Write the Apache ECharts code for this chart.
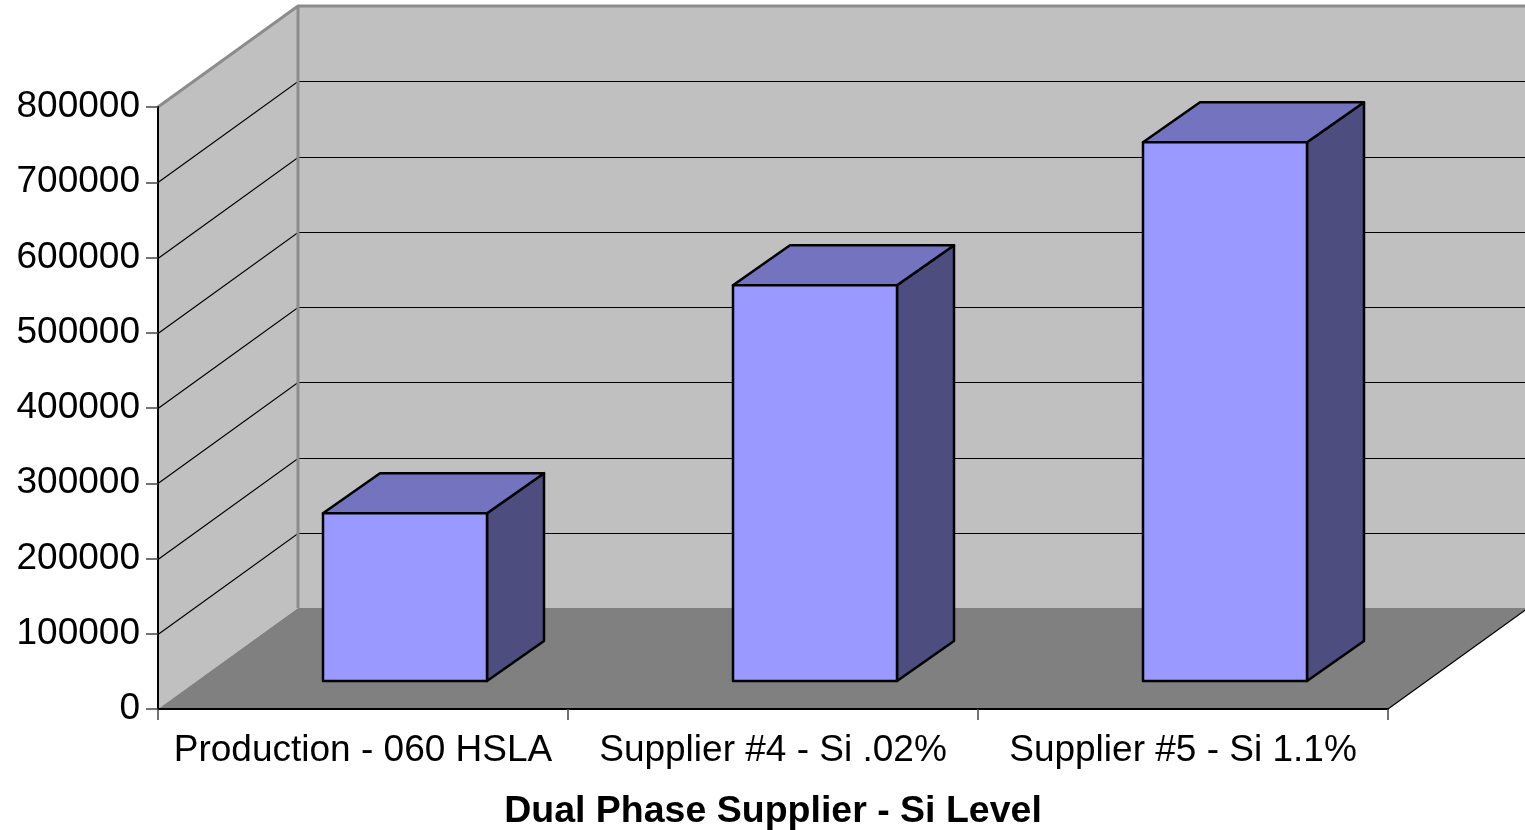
<!DOCTYPE html>
<html>
<head>
<meta charset="utf-8">
<title>Dual Phase Supplier - Si Level</title>
<script src="https://cdn.jsdelivr.net/npm/echarts@6/dist/echarts.min.js"></script>
<style>
  html, body { margin: 0; padding: 0; background: #ffffff; }
  #chart { width: 1525px; height: 830px; }
</style>
</head>
<body>
<div id="chart"></div>
<script>
// Categories and measured values
const categories = ['Production - 060 HSLA', 'Supplier #4 - Si .02%', 'Supplier #5 - Si 1.1%'];
const values = [223000, 526000, 716000];

// Value axis range
const yMin = 0;
const yMax = 800000;
const yStep = 100000;

const axisTitle = 'Dual Phase Supplier - Si Level';

// Oblique depth of the plot box (pixels, towards the back wall)
const DEPTH = [140, -101];
// Front and back planes of each column inside the depth
const BAR_FRONT = [42, -28];
const BAR_BACK = [99, -68];
const BAR_WIDTH_RATIO = 0.4;

const COLORS = {
  wall: '#c0c0c0',
  floor: '#808080',
  wallEdge: '#8c8c8c',
  grid: '#000000',
  barFront: '#9999ff',
  barTop: '#7373bf',
  barSide: '#4d4d80'
};

// Walls, floor and gridlines of the 3-D box
function renderWalls(params, api) {
  const left = api.coord([0, yMin])[0] - api.size([1, 0])[0] / 2;
  const right = left + api.size([1, 0])[0] * categories.length;
  const bottom = api.coord([0, yMin])[1];
  const top = api.coord([0, yMax])[1];
  const dx = DEPTH[0], dy = DEPTH[1];
  const children = [];

  children.push({
    type: 'polygon',
    shape: { points: [[left + dx, top + dy], [right + dx, top + dy], [right + dx, bottom + dy], [left + dx, bottom + dy]] },
    style: { fill: COLORS.wall }
  });
  children.push({
    type: 'polygon',
    shape: { points: [[left, bottom], [left, top], [left + dx, top + dy], [left + dx, bottom + dy]] },
    style: { fill: COLORS.wall }
  });
  children.push({
    type: 'polygon',
    shape: { points: [[left, bottom], [right, bottom], [right + dx, bottom + dy], [left + dx, bottom + dy]] },
    style: { fill: COLORS.floor }
  });

  for (let v = yMin + yStep; v < yMax; v += yStep) {
    const y = Math.round(api.coord([0, v])[1]) + 0.5;
    children.push({
      type: 'polyline',
      shape: { points: [[left, y], [left + dx, y + dy], [right + dx, y + dy]] },
      style: { stroke: COLORS.grid, lineWidth: 1.2, fill: null }
    });
  }

  // outer edges of the walls
  children.push({
    type: 'polyline',
    shape: { points: [[left, top], [left + dx, top + dy], [right + dx, top + dy]] },
    style: { stroke: COLORS.wallEdge, lineWidth: 3, fill: null }
  });
  children.push({
    type: 'line',
    shape: { x1: left + dx, y1: top + dy, x2: left + dx, y2: bottom + dy },
    style: { stroke: COLORS.wallEdge, lineWidth: 3 }
  });
  // right edge of the floor
  children.push({
    type: 'line',
    shape: { x1: right, y1: bottom, x2: right + dx, y2: bottom + dy },
    style: { stroke: '#000000', lineWidth: 1.2 }
  });

  return { type: 'group', children: children };
}

// One 3-D column per category
function renderBar(params, api) {
  const idx = api.value(0);
  const val = api.value(1);
  const cx = api.coord([idx, val])[0];
  const yTop = api.coord([idx, val])[1];
  const yBase = api.coord([idx, yMin])[1];
  const w = api.size([1, 0])[0] * BAR_WIDTH_RATIO;
  const xl = cx - w / 2, xr = cx + w / 2;
  const f = BAR_FRONT, b = BAR_BACK;
  const edge = { stroke: '#000000', lineWidth: 2.5, lineJoin: 'round' };

  return {
    type: 'group',
    children: [
      {
        type: 'polygon',
        shape: { points: [[xr + f[0], yTop + f[1]], [xr + b[0], yTop + b[1]], [xr + b[0], yBase + b[1]], [xr + f[0], yBase + f[1]]] },
        style: Object.assign({ fill: COLORS.barSide }, edge)
      },
      {
        type: 'polygon',
        shape: { points: [[xl + f[0], yTop + f[1]], [xr + f[0], yTop + f[1]], [xr + b[0], yTop + b[1]], [xl + b[0], yTop + b[1]]] },
        style: Object.assign({ fill: COLORS.barTop }, edge)
      },
      {
        type: 'polygon',
        shape: { points: [[xl + f[0], yTop + f[1]], [xr + f[0], yTop + f[1]], [xr + f[0], yBase + f[1]], [xl + f[0], yBase + f[1]]] },
        style: Object.assign({ fill: COLORS.barFront }, edge)
      }
    ]
  };
}

const chart = echarts.init(document.getElementById('chart'), null, { renderer: 'canvas' });

chart.setOption({
  backgroundColor: '#ffffff',
  animation: false,
  grid: {
    left: 158,
    right: 137,
    top: 107,
    bottom: 121,
    outerBoundsMode: 'none',
    containLabel: false
  },
  xAxis: {
    type: 'category',
    data: categories,
    boundaryGap: true,
    z: 10,
    axisLine: { show: true, lineStyle: { color: '#000000', width: 2 } },
    axisTick: { show: true, alignWithLabel: false, length: 11, lineStyle: { color: '#444444', width: 1.5 } },
    axisLabel: {
      show: true,
      interval: 0,
      margin: 23,
      color: '#000000',
      fontFamily: 'Liberation Sans',
      fontSize: 37
    },
    splitLine: { show: false },
    name: axisTitle,
    nameLocation: 'middle',
    nameGap: 84,
    nameTextStyle: {
      color: '#000000',
      fontFamily: 'Liberation Sans',
      fontWeight: 'bold',
      fontSize: 37.5
    }
  },
  yAxis: {
    type: 'value',
    min: yMin,
    max: yMax,
    interval: yStep,
    z: 10,
    axisLine: { show: true, lineStyle: { color: '#000000', width: 2 } },
    axisTick: { show: true, length: 12, lineStyle: { color: '#444444', width: 1.5 } },
    axisLabel: {
      show: true,
      margin: 18,
      color: '#000000',
      fontFamily: 'Liberation Sans',
      fontSize: 37,
      formatter: function (v) { return String(v); }
    },
    splitLine: { show: false }
  },
  series: [
    {
      type: 'custom',
      name: 'walls',
      z: 0,
      clip: false,
      silent: true,
      renderItem: renderWalls,
      data: [[0, yMin]],
      encode: { x: 0, y: 1 }
    },
    {
      type: 'custom',
      name: 'columns',
      z: 3,
      clip: false,
      renderItem: renderBar,
      data: values.map(function (v, i) { return [i, v]; }),
      encode: { x: 0, y: 1 }
    }
  ]
});
</script>
</body>
</html>
